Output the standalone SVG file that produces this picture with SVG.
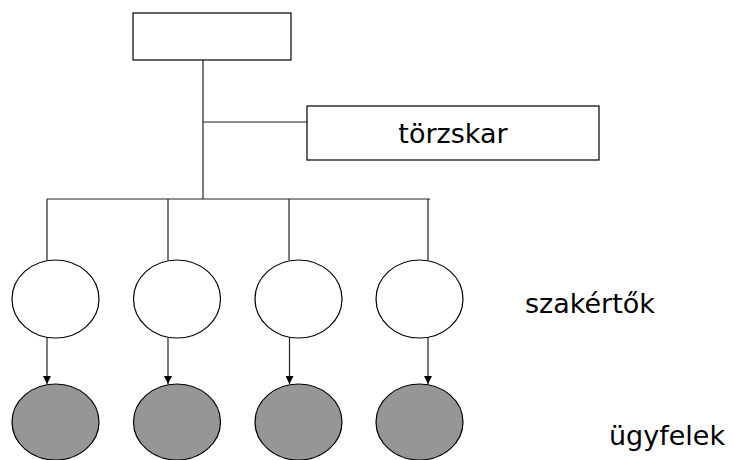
<svg xmlns="http://www.w3.org/2000/svg" width="733" height="460" viewBox="0 0 733 460">
<style>
.box{fill:#fff;stroke:#000;stroke-width:1.2}
.exp{fill:#fff;stroke:#000;stroke-width:1.2}
.cli{fill:#969696;stroke:#000;stroke-width:1.2}
.ln{fill:none;stroke:#222;stroke-width:1.2}
.lbl{font-family:"DejaVu Sans",Verdana,sans-serif;font-size:27px;fill:#000}
</style>
<defs>
<marker id="ah" markerWidth="8" markerHeight="8" refX="8" refY="4" orient="auto" markerUnits="userSpaceOnUse">
<path d="M0,0 L8,4 L0,8 Z" fill="#000"/>
</marker>
</defs>
<rect width="733" height="460" fill="#fff"/>
<g id="connectors">
<line class="ln" x1="203" y1="60" x2="203" y2="199"/>
<line class="ln" x1="203" y1="122" x2="307" y2="122"/>
<line class="ln" x1="47" y1="199" x2="430" y2="199"/>
<line class="ln" x1="47" y1="199" x2="47" y2="260"/>
<line class="ln" x1="168" y1="199" x2="168" y2="260"/>
<line class="ln" x1="289" y1="199" x2="289" y2="260"/>
<line class="ln" x1="428" y1="199" x2="428" y2="260"/>
<line class="ln" x1="47" y1="338" x2="47" y2="384" marker-end="url(#ah)"/>
<line class="ln" x1="168" y1="338" x2="168" y2="384" marker-end="url(#ah)"/>
<line class="ln" x1="289.5" y1="338" x2="289.5" y2="384" marker-end="url(#ah)"/>
<line class="ln" x1="428" y1="338" x2="428" y2="384" marker-end="url(#ah)"/>
</g>
<g id="top"><rect class="box" x="133" y="13" width="158" height="47"/></g>
<g id="torzskar"><rect class="box" x="307" y="106" width="292" height="54"/><text class="lbl" x="453" y="143" text-anchor="middle">törzskar</text></g>
<g id="szakerto1"><ellipse class="exp" cx="55.5" cy="299" rx="43.5" ry="39"/></g>
<g id="szakerto2"><ellipse class="exp" cx="177" cy="299" rx="43.5" ry="39"/></g>
<g id="szakerto3"><ellipse class="exp" cx="298.5" cy="299" rx="43.5" ry="39"/></g>
<g id="szakerto4"><ellipse class="exp" cx="419.5" cy="299" rx="43.5" ry="39"/></g>
<g id="ugyfel1"><ellipse class="cli" cx="55.5" cy="422" rx="43.5" ry="38"/></g>
<g id="ugyfel2"><ellipse class="cli" cx="177" cy="422" rx="43.5" ry="38"/></g>
<g id="ugyfel3"><ellipse class="cli" cx="298.5" cy="422" rx="43.5" ry="38"/></g>
<g id="ugyfel4"><ellipse class="cli" cx="419.5" cy="422" rx="43.5" ry="38"/></g>
<g id="label-szakertok"><text class="lbl" x="525" y="313">szakértők</text></g>
<g id="label-ugyfelek"><text class="lbl" x="609" y="445">ügyfelek</text></g>
</svg>
